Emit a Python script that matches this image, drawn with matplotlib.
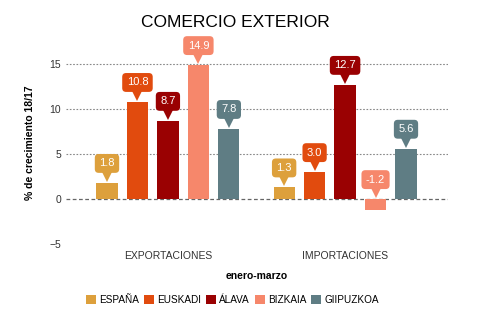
import numpy as np
import matplotlib
matplotlib.use("Agg")
import matplotlib.pyplot as plt
from matplotlib.transforms import ScaledTranslation

plt.rcParams["font.family"] = ["Liberation Sans", "DejaVu Sans"]

categories = ["EXPORTACIONES", "IMPORTACIONES"]
regions = ["ESPAÑA", "EUSKADI", "ÁLAVA", "BIZKAIA", "GIIPUZKOA"]
values = {
    "ESPAÑA": [1.8, 1.3],
    "EUSKADI": [10.8, 3.0],
    "ÁLAVA": [8.7, 12.7],
    "BIZKAIA": [14.9, -1.2],
    "GIIPUZKOA": [7.8, 5.6],
}
colors = ["#DDA03C", "#E14B0E", "#9A0102", "#F6876B", "#5F7D84"]

fig = plt.figure(figsize=(4.81, 3.28), dpi=100)
ax = fig.add_axes([0.137, 0.256, 0.794, 0.617])

x = np.arange(len(categories))
width = 0.12
step = 0.172

# pointer markers sit a few pixels above the bar top
pointer_shift = ScaledTranslation(0, 6 / 100, fig.dpi_scale_trans)

for i, (name, color) in enumerate(zip(regions, colors)):
    pos = x + (i - 2) * step
    vals = values[name]
    ax.bar(pos, vals, width, color=color, label=name, zorder=3)
    for px, v in zip(pos, vals):
        base = max(v, 0)
        ax.plot(px, base, marker="v", markersize=7, color=color,
                linestyle="none", markeredgewidth=0, zorder=4, clip_on=False,
                transform=ax.transData + pointer_shift)
        ax.annotate(f"{v:.1f}", (px, base), xytext=(0, 14),
                    textcoords="offset points", ha="center", va="center",
                    color="white", fontsize=8, zorder=5,
                    bbox=dict(boxstyle="round,pad=0.4,rounding_size=0.35",
                              fc=color, ec="none"))

ax.set_ylim(-5, 17.5)
ax.set_xlim(-0.576, 1.58)
ax.set_yticks([-5, 0, 5, 10, 15])
ax.set_xticks(x)
ax.set_xticklabels(categories)
ax.tick_params(axis="both", length=0, labelsize=7.5, colors="#333333")
ax.tick_params(axis="x", pad=5)

for yv in [5, 10, 15]:
    ax.axhline(yv, color="#888888", linestyle=(0, (1.5, 1.5)), linewidth=0.8, zorder=1)
ax.axhline(0, color="#666666", linestyle=(0, (3, 2)), linewidth=0.9, zorder=2)

for s in ax.spines.values():
    s.set_visible(False)

ax.set_ylabel("% de crecimiento 18/17", fontsize=7.5, fontweight="bold", labelpad=10)
ax.set_xlabel("enero-marzo", fontsize=7.5, fontweight="bold", labelpad=7)
fig.suptitle("COMERCIO EXTERIOR", fontsize=12.5, x=0.49, y=0.955)

fig.legend(loc="center", bbox_to_anchor=(0.483, 0.085), ncol=5, frameon=False,
           fontsize=7.2, handlelength=1.0, handleheight=1.0, handletextpad=0.3,
           columnspacing=0.5)

fig.savefig("out.png", dpi=100)
